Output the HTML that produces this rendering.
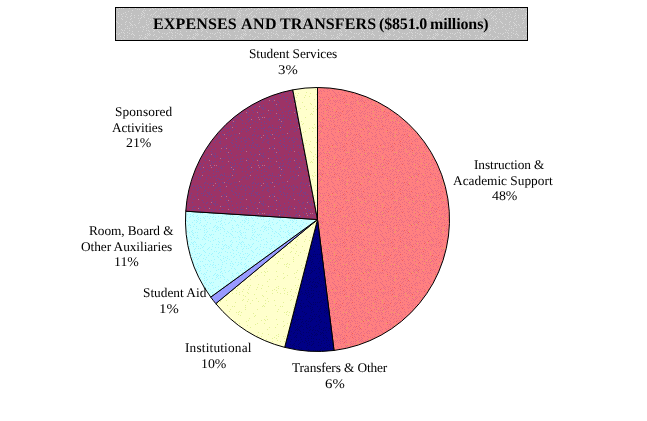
<!DOCTYPE html>
<html><head><meta charset="utf-8"><style>
html,body{margin:0;padding:0;background:#fff;}
svg{display:block;}
text{font-family:"Liberation Serif",serif;font-size:13.33px;fill:#000;text-rendering:geometricPrecision;}
.title{font-weight:bold;font-size:16px;}
</style></head><body>
<svg width="647" height="421" viewBox="0 0 647 421">
<defs><pattern id="ppink" patternUnits="userSpaceOnUse" x="0" y="0" width="48" height="48"><rect width="48" height="48" fill="#FF8080"/><path fill="#E66C84" d="M20 9h1v1h-1zM25 41h1v1h-1zM3 4h1v1h-1zM34 6h1v1h-1zM23 37h1v1h-1zM3 32h1v1h-1zM13 2h1v1h-1zM5 27h1v1h-1zM26 4h1v1h-1zM15 5h1v1h-1zM35 27h1v1h-1zM3 36h1v1h-1zM7 14h1v1h-1zM40 40h1v1h-1zM37 3h1v1h-1zM36 37h1v1h-1zM25 3h1v1h-1zM35 8h1v1h-1zM18 26h1v1h-1zM9 34h1v1h-1zM7 36h1v1h-1zM19 35h1v1h-1zM43 11h1v1h-1zM6 37h1v1h-1zM36 40h1v1h-1zM12 23h1v1h-1zM6 35h1v1h-1zM45 4h1v1h-1zM39 13h1v1h-1zM31 43h1v1h-1zM20 29h1v1h-1zM37 29h1v1h-1zM23 19h1v1h-1zM15 11h1v1h-1zM44 15h1v1h-1zM5 36h1v1h-1zM19 33h1v1h-1zM31 21h1v1h-1zM46 28h1v1h-1zM18 38h1v1h-1zM4 7h1v1h-1zM32 26h1v1h-1zM10 21h1v1h-1zM9 31h1v1h-1zM26 2h1v1h-1zM42 4h1v1h-1zM35 36h1v1h-1zM20 21h1v1h-1zM44 22h1v1h-1zM38 31h1v1h-1zM4 5h1v1h-1zM17 30h1v1h-1zM44 42h1v1h-1zM4 3h1v1h-1zM46 44h1v1h-1zM19 41h1v1h-1zM36 43h1v1h-1zM28 18h1v1h-1zM45 24h1v1h-1zM42 22h1v1h-1zM1 29h1v1h-1zM22 10h1v1h-1zM39 7h1v1h-1zM31 3h1v1h-1zM13 18h1v1h-1zM8 47h1v1h-1zM15 25h1v1h-1zM25 31h1v1h-1zM5 10h1v1h-1zM28 25h1v1h-1zM35 17h1v1h-1zM8 27h1v1h-1zM45 26h1v1h-1zM22 43h1v1h-1zM24 14h1v1h-1zM9 5h1v1h-1zM11 9h1v1h-1zM14 42h1v1h-1zM14 0h1v1h-1zM31 37h1v1h-1zM11 16h1v1h-1zM18 0h1v1h-1zM9 26h1v1h-1zM34 23h1v1h-1zM39 36h1v1h-1zM44 32h1v1h-1zM39 41h1v1h-1zM43 47h1v1h-1zM3 29h1v1h-1zM43 35h1v1h-1zM25 25h1v1h-1zM6 30h1v1h-1zM40 25h1v1h-1zM3 12h1v1h-1zM4 13h1v1h-1zM28 10h1v1h-1zM7 21h1v1h-1zM6 0h1v1h-1zM36 9h1v1h-1zM23 39h1v1h-1zM1 4h1v1h-1zM13 39h1v1h-1zM24 9h1v1h-1zM40 16h1v1h-1zM22 38h1v1h-1zM23 30h1v1h-1zM7 7h1v1h-1zM31 29h1v1h-1zM30 30h1v1h-1zM19 5h1v1h-1zM47 21h1v1h-1zM47 16h1v1h-1zM30 44h1v1h-1zM10 33h1v1h-1zM1 13h1v1h-1zM9 44h1v1h-1zM34 1h1v1h-1zM33 19h1v1h-1zM41 5h1v1h-1zM14 34h1v1h-1zM34 32h1v1h-1zM21 40h1v1h-1zM12 15h1v1h-1zM25 47h1v1h-1zM14 12h1v1h-1zM33 31h1v1h-1zM22 46h1v1h-1zM1 1h1v1h-1zM16 12h1v1h-1zM44 38h1v1h-1zM22 28h1v1h-1zM46 22h1v1h-1zM23 5h1v1h-1zM14 6h1v1h-1zM14 30h1v1h-1zM12 21h1v1h-1zM39 39h1v1h-1zM0 30h1v1h-1zM42 7h1v1h-1zM24 45h1v1h-1zM12 30h1v1h-1zM11 27h1v1h-1zM40 21h1v1h-1zM5 46h1v1h-1zM25 29h1v1h-1zM10 10h1v1h-1zM8 1h1v1h-1zM9 37h1v1h-1zM29 41h1v1h-1zM9 39h1v1h-1zM46 41h1v1h-1zM6 33h1v1h-1zM47 8h1v1h-1zM27 12h1v1h-1zM18 32h1v1h-1zM15 37h1v1h-1zM20 16h1v1h-1zM34 26h1v1h-1zM8 3h1v1h-1zM37 33h1v1h-1zM26 32h1v1h-1zM32 1h1v1h-1zM38 0h1v1h-1zM9 11h1v1h-1zM39 46h1v1h-1zM3 20h1v1h-1zM43 33h1v1h-1zM33 35h1v1h-1zM30 6h1v1h-1zM35 3h1v1h-1zM17 2h1v1h-1zM28 35h1v1h-1zM28 20h1v1h-1zM39 32h1v1h-1zM12 44h1v1h-1zM17 28h1v1h-1zM32 34h1v1h-1zM30 32h1v1h-1zM15 44h1v1h-1zM33 16h1v1h-1zM35 12h1v1h-1zM28 8h1v1h-1zM26 7h1v1h-1zM20 4h1v1h-1zM42 15h1v1h-1zM19 7h1v1h-1zM41 42h1v1h-1zM16 8h1v1h-1zM29 14h1v1h-1zM47 6h1v1h-1zM10 42h1v1h-1zM14 10h1v1h-1zM21 26h1v1h-1zM1 21h1v1h-1zM35 29h1v1h-1zM28 45h1v1h-1zM1 24h1v1h-1zM21 33h1v1h-1zM39 18h1v1h-1zM32 4h1v1h-1zM6 5h1v1h-1zM16 17h1v1h-1zM2 11h1v1h-1zM27 43h1v1h-1zM32 36h1v1h-1zM38 14h1v1h-1zM4 16h1v1h-1zM7 29h1v1h-1zM17 39h1v1h-1zM33 45h1v1h-1zM15 7h1v1h-1zM12 19h1v1h-1zM40 19h1v1h-1zM33 13h1v1h-1zM22 1h1v1h-1zM46 32h1v1h-1zM32 30h1v1h-1zM15 28h1v1h-1zM6 42h1v1h-1zM41 27h1v1h-1zM42 31h1v1h-1zM44 13h1v1h-1zM14 21h1v1h-1zM8 25h1v1h-1zM22 3h1v1h-1zM4 40h1v1h-1zM42 24h1v1h-1zM32 42h1v1h-1zM29 11h1v1h-1zM10 17h1v1h-1zM28 0h1v1h-1zM16 23h1v1h-1zM21 35h1v1h-1zM2 19h1v1h-1zM13 22h1v1h-1zM11 0h1v1h-1zM21 24h1v1h-1zM41 12h1v1h-1zM15 32h1v1h-1zM0 5h1v1h-1zM25 1h1v1h-1zM19 19h1v1h-1zM40 14h1v1h-1zM33 9h1v1h-1zM42 45h1v1h-1zM38 24h1v1h-1zM20 46h1v1h-1zM31 9h1v1h-1zM18 46h1v1h-1zM9 2h1v1h-1zM32 8h1v1h-1zM36 1h1v1h-1zM43 37h1v1h-1zM45 43h1v1h-1zM8 40h1v1h-1zM24 28h1v1h-1zM40 1h1v1h-1zM40 34h1v1h-1zM31 16h1v1h-1zM4 47h1v1h-1zM47 47h1v1h-1zM15 46h1v1h-1zM13 14h1v1h-1zM29 31h1v1h-1zM24 4h1v1h-1zM4 38h1v1h-1zM16 41h1v1h-1zM19 39h1v1h-1zM17 43h1v1h-1zM6 44h1v1h-1zM13 43h1v1h-1zM31 18h1v1h-1zM45 33h1v1h-1zM18 29h1v1h-1zM29 29h1v1h-1zM1 18h1v1h-1zM29 4h1v1h-1zM32 28h1v1h-1zM17 24h1v1h-1zM47 33h1v1h-1zM8 38h1v1h-1zM17 7h1v1h-1zM31 25h1v1h-1zM1 10h1v1h-1zM43 28h1v1h-1zM25 19h1v1h-1zM46 9h1v1h-1zM26 22h1v1h-1zM24 20h1v1h-1zM0 20h1v1h-1zM7 12h1v1h-1zM45 0h1v1h-1zM47 18h1v1h-1zM4 25h1v1h-1zM4 23h1v1h-1zM27 17h1v1h-1zM3 17h1v1h-1zM6 3h1v1h-1zM42 18h1v1h-1zM40 9h1v1h-1zM20 12h1v1h-1zM23 27h1v1h-1zM1 40h1v1h-1zM25 35h1v1h-1zM46 5h1v1h-1zM3 46h1v1h-1zM26 28h1v1h-1zM10 30h1v1h-1zM16 47h1v1h-1zM19 30h1v1h-1zM35 42h1v1h-1zM10 4h1v1h-1zM13 32h1v1h-1zM31 35h1v1h-1zM35 5h1v1h-1zM23 16h1v1h-1zM1 47h1v1h-1zM26 24h1v1h-1zM24 17h1v1h-1zM36 23h1v1h-1zM8 43h1v1h-1zM5 17h1v1h-1zM28 27h1v1h-1zM19 1h1v1h-1zM31 0h1v1h-1zM33 29h1v1h-1zM28 15h1v1h-1zM9 9h1v1h-1zM33 43h1v1h-1zM14 36h1v1h-1zM2 41h1v1h-1zM45 19h1v1h-1zM16 33h1v1h-1zM44 7h1v1h-1zM37 12h1v1h-1zM14 38h1v1h-1zM0 0h1v1h-1zM29 17h1v1h-1zM35 15h1v1h-1zM1 26h1v1h-1zM19 3h1v1h-1zM27 23h1v1h-1zM2 44h1v1h-1zM21 45h1v1h-1zM43 25h1v1h-1zM6 39h1v1h-1zM31 39h1v1h-1zM11 14h1v1h-1zM38 9h1v1h-1zM11 25h1v1h-1zM12 11h1v1h-1zM41 33h1v1h-1zM47 29h1v1h-1zM24 23h1v1h-1zM10 6h1v1h-1zM17 5h1v1h-1zM13 24h1v1h-1zM27 5h1v1h-1zM30 12h1v1h-1zM23 34h1v1h-1zM20 23h1v1h-1zM26 15h1v1h-1zM47 4h1v1h-1zM38 21h1v1h-1zM2 16h1v1h-1zM47 45h1v1h-1zM44 20h1v1h-1zM17 19h1v1h-1zM0 46h1v1h-1zM38 40h1v1h-1zM4 1h1v1h-1zM29 24h1v1h-1zM16 27h1v1h-1zM31 11h1v1h-1zM19 44h1v1h-1zM15 20h1v1h-1zM5 32h1v1h-1zM10 15h1v1h-1zM41 2h1v1h-1zM34 20h1v1h-1zM6 26h1v1h-1zM31 45h1v1h-1zM14 8h1v1h-1zM39 43h1v1h-1zM7 18h1v1h-1zM18 17h1v1h-1zM12 28h1v1h-1zM15 15h1v1h-1zM9 18h1v1h-1zM25 16h1v1h-1zM41 29h1v1h-1zM2 6h1v1h-1zM23 2h1v1h-1zM18 14h1v1h-1zM12 38h1v1h-1zM28 38h1v1h-1zM40 38h1v1h-1zM45 39h1v1h-1zM22 13h1v1h-1zM2 23h1v1h-1zM23 11h1v1h-1zM2 31h1v1h-1zM41 10h1v1h-1zM25 44h1v1h-1zM18 42h1v1h-1zM47 36h1v1h-1zM23 41h1v1h-1zM46 25h1v1h-1zM9 41h1v1h-1zM25 5h1v1h-1zM23 47h1v1h-1zM32 10h1v1h-1zM9 22h1v1h-1zM18 10h1v1h-1z"/><path fill="#E8A55F" d="M30 20h1v1h-1zM10 40h1v1h-1zM25 39h1v1h-1zM11 36h1v1h-1zM25 33h1v1h-1zM10 24h1v1h-1zM22 7h1v1h-1zM46 12h1v1h-1zM2 35h1v1h-1zM43 2h1v1h-1zM42 20h1v1h-1zM7 24h1v1h-1zM37 15h1v1h-1zM28 32h1v1h-1zM32 32h1v1h-1zM46 20h1v1h-1zM32 24h1v1h-1zM41 8h1v1h-1zM12 8h1v1h-1zM46 14h1v1h-1zM29 9h1v1h-1zM25 10h1v1h-1zM33 3h1v1h-1zM40 23h1v1h-1zM33 37h1v1h-1zM47 23h1v1h-1zM21 5h1v1h-1zM11 39h1v1h-1zM47 2h1v1h-1zM14 26h1v1h-1zM37 19h1v1h-1zM37 8h1v1h-1zM39 30h1v1h-1zM10 8h1v1h-1z"/><path fill="#EE5A5A" d="M0 15h1v1h-1zM28 6h1v1h-1zM35 22h1v1h-1zM3 34h1v1h-1zM12 33h1v1h-1zM39 11h1v1h-1zM4 19h1v1h-1zM40 3h1v1h-1zM46 30h1v1h-1zM27 47h1v1h-1zM16 14h1v1h-1zM16 45h1v1h-1zM10 47h1v1h-1zM24 40h1v1h-1zM34 30h1v1h-1zM44 1h1v1h-1zM6 15h1v1h-1zM7 2h1v1h-1zM8 6h1v1h-1zM18 20h1v1h-1zM16 1h1v1h-1zM20 38h1v1h-1zM27 33h1v1h-1z"/></pattern><pattern id="pnavy" patternUnits="userSpaceOnUse" x="0" y="0" width="48" height="48"><rect width="48" height="48" fill="#000086"/><path fill="#000068" d="M14 23h1v1h-1zM24 8h1v1h-1zM12 45h1v1h-1zM2 5h1v1h-1zM8 15h1v1h-1zM32 13h1v1h-1zM25 41h1v1h-1zM1 29h1v1h-1zM31 29h1v1h-1zM24 31h1v1h-1zM36 12h1v1h-1zM25 5h1v1h-1zM31 14h1v1h-1zM1 44h1v1h-1zM17 33h1v1h-1zM26 30h1v1h-1zM24 46h1v1h-1zM7 42h1v1h-1zM16 6h1v1h-1zM4 24h1v1h-1zM39 24h1v1h-1zM3 21h1v1h-1zM15 44h1v1h-1zM5 31h1v1h-1zM41 33h1v1h-1zM13 37h1v1h-1zM9 38h1v1h-1zM4 34h1v1h-1zM2 31h1v1h-1zM44 12h1v1h-1zM29 46h1v1h-1zM37 28h1v1h-1zM18 35h1v1h-1zM22 27h1v1h-1zM8 10h1v1h-1zM38 6h1v1h-1zM34 44h1v1h-1zM20 44h1v1h-1zM22 41h1v1h-1zM31 32h1v1h-1zM39 12h1v1h-1zM19 9h1v1h-1zM22 33h1v1h-1zM18 32h1v1h-1zM42 4h1v1h-1zM32 44h1v1h-1zM34 14h1v1h-1zM22 15h1v1h-1zM0 18h1v1h-1zM21 14h1v1h-1zM17 2h1v1h-1zM27 16h1v1h-1zM24 19h1v1h-1zM45 26h1v1h-1zM11 42h1v1h-1zM25 7h1v1h-1zM1 12h1v1h-1zM10 19h1v1h-1zM7 0h1v1h-1zM24 21h1v1h-1zM10 36h1v1h-1zM27 14h1v1h-1zM8 26h1v1h-1zM26 26h1v1h-1zM5 37h1v1h-1zM4 18h1v1h-1zM45 6h1v1h-1zM42 6h1v1h-1zM33 33h1v1h-1zM23 9h1v1h-1zM32 31h1v1h-1zM45 9h1v1h-1zM38 4h1v1h-1zM12 1h1v1h-1zM8 21h1v1h-1zM24 42h1v1h-1zM36 7h1v1h-1zM47 19h1v1h-1zM22 20h1v1h-1zM23 0h1v1h-1zM41 31h1v1h-1zM13 3h1v1h-1zM39 2h1v1h-1zM37 11h1v1h-1zM11 21h1v1h-1zM27 28h1v1h-1zM7 5h1v1h-1zM12 38h1v1h-1zM14 31h1v1h-1zM30 9h1v1h-1zM46 28h1v1h-1zM41 8h1v1h-1zM32 46h1v1h-1zM5 45h1v1h-1zM30 36h1v1h-1zM25 23h1v1h-1zM29 14h1v1h-1zM3 12h1v1h-1zM3 28h1v1h-1zM13 46h1v1h-1zM0 45h1v1h-1zM38 39h1v1h-1zM1 41h1v1h-1zM33 5h1v1h-1zM47 38h1v1h-1zM20 33h1v1h-1zM33 41h1v1h-1zM18 39h1v1h-1zM18 5h1v1h-1zM25 14h1v1h-1zM40 18h1v1h-1zM5 35h1v1h-1zM26 47h1v1h-1zM19 40h1v1h-1zM22 18h1v1h-1zM12 31h1v1h-1zM23 24h1v1h-1zM37 19h1v1h-1zM13 18h1v1h-1zM25 39h1v1h-1zM46 22h1v1h-1zM43 38h1v1h-1zM37 23h1v1h-1zM43 27h1v1h-1zM5 17h1v1h-1zM10 4h1v1h-1zM17 26h1v1h-1zM7 39h1v1h-1zM17 18h1v1h-1zM40 26h1v1h-1zM15 15h1v1h-1zM14 38h1v1h-1zM33 12h1v1h-1zM6 7h1v1h-1zM41 10h1v1h-1zM36 27h1v1h-1zM2 8h1v1h-1zM1 39h1v1h-1zM12 43h1v1h-1zM6 29h1v1h-1zM29 42h1v1h-1zM5 8h1v1h-1zM38 22h1v1h-1zM20 2h1v1h-1zM41 23h1v1h-1zM4 14h1v1h-1zM46 2h1v1h-1zM38 20h1v1h-1zM20 4h1v1h-1zM33 7h1v1h-1zM46 39h1v1h-1zM10 10h1v1h-1zM16 24h1v1h-1zM9 27h1v1h-1zM46 4h1v1h-1zM6 34h1v1h-1zM14 5h1v1h-1zM18 11h1v1h-1zM21 47h1v1h-1zM12 6h1v1h-1zM3 3h1v1h-1zM35 47h1v1h-1zM35 40h1v1h-1zM20 18h1v1h-1zM15 47h1v1h-1zM7 36h1v1h-1zM8 47h1v1h-1zM20 13h1v1h-1zM26 11h1v1h-1zM10 8h1v1h-1zM28 3h1v1h-1zM44 28h1v1h-1zM37 42h1v1h-1zM47 23h1v1h-1zM44 36h1v1h-1zM45 31h1v1h-1zM19 17h1v1h-1zM43 30h1v1h-1zM8 17h1v1h-1zM31 40h1v1h-1zM32 34h1v1h-1zM32 18h1v1h-1zM33 25h1v1h-1zM8 31h1v1h-1zM7 18h1v1h-1zM25 2h1v1h-1zM2 23h1v1h-1zM44 1h1v1h-1zM39 9h1v1h-1zM5 11h1v1h-1zM28 37h1v1h-1zM23 32h1v1h-1zM2 38h1v1h-1zM45 41h1v1h-1zM23 22h1v1h-1zM6 20h1v1h-1zM41 15h1v1h-1zM30 23h1v1h-1zM36 22h1v1h-1zM40 42h1v1h-1zM2 47h1v1h-1zM9 45h1v1h-1zM42 41h1v1h-1zM2 14h1v1h-1zM32 23h1v1h-1zM8 41h1v1h-1zM28 47h1v1h-1zM18 37h1v1h-1zM43 16h1v1h-1zM29 18h1v1h-1zM18 25h1v1h-1zM41 28h1v1h-1zM21 8h1v1h-1zM37 47h1v1h-1zM6 23h1v1h-1zM45 38h1v1h-1zM42 29h1v1h-1zM23 30h1v1h-1zM36 24h1v1h-1zM13 34h1v1h-1zM33 45h1v1h-1zM9 32h1v1h-1zM35 42h1v1h-1zM9 40h1v1h-1zM25 16h1v1h-1zM0 2h1v1h-1zM28 45h1v1h-1zM13 20h1v1h-1zM0 47h1v1h-1zM19 0h1v1h-1zM5 26h1v1h-1zM7 27h1v1h-1zM32 9h1v1h-1zM4 9h1v1h-1zM42 45h1v1h-1zM22 38h1v1h-1zM27 42h1v1h-1zM3 16h1v1h-1zM26 44h1v1h-1zM42 12h1v1h-1zM10 14h1v1h-1zM3 25h1v1h-1zM44 19h1v1h-1zM16 19h1v1h-1zM33 17h1v1h-1zM38 1h1v1h-1zM45 44h1v1h-1zM13 12h1v1h-1zM45 20h1v1h-1zM15 41h1v1h-1zM30 6h1v1h-1zM14 33h1v1h-1zM21 39h1v1h-1zM27 46h1v1h-1zM44 8h1v1h-1zM36 17h1v1h-1zM20 36h1v1h-1zM9 42h1v1h-1zM38 25h1v1h-1zM1 20h1v1h-1zM19 7h1v1h-1zM7 24h1v1h-1zM43 42h1v1h-1zM28 26h1v1h-1zM31 21h1v1h-1zM35 45h1v1h-1zM38 44h1v1h-1zM32 20h1v1h-1zM23 45h1v1h-1zM11 7h1v1h-1zM35 1h1v1h-1zM12 15h1v1h-1zM40 4h1v1h-1zM31 38h1v1h-1zM10 31h1v1h-1zM47 17h1v1h-1zM37 15h1v1h-1zM44 3h1v1h-1zM41 25h1v1h-1zM28 33h1v1h-1zM36 39h1v1h-1zM36 34h1v1h-1zM35 11h1v1h-1zM3 43h1v1h-1zM17 4h1v1h-1zM15 35h1v1h-1zM30 28h1v1h-1zM18 44h1v1h-1zM35 4h1v1h-1zM11 11h1v1h-1zM12 28h1v1h-1zM1 33h1v1h-1zM7 33h1v1h-1zM36 2h1v1h-1zM23 16h1v1h-1zM21 6h1v1h-1zM6 12h1v1h-1zM31 27h1v1h-1zM6 44h1v1h-1zM8 1h1v1h-1zM24 28h1v1h-1zM21 42h1v1h-1zM27 38h1v1h-1zM30 43h1v1h-1zM8 4h1v1h-1zM46 11h1v1h-1zM15 28h1v1h-1zM12 17h1v1h-1zM38 35h1v1h-1zM42 9h1v1h-1zM0 21h1v1h-1zM23 5h1v1h-1zM0 37h1v1h-1zM6 9h1v1h-1zM10 41h1v1h-1zM21 30h1v1h-1zM46 14h1v1h-1zM6 1h1v1h-1zM23 2h1v1h-1zM41 40h1v1h-1zM11 39h1v1h-1zM31 3h1v1h-1z"/></pattern><pattern id="pyellow" patternUnits="userSpaceOnUse" x="0" y="0" width="48" height="48"><rect width="48" height="48" fill="#FFFFCC"/><path fill="#E2F096" d="M29 39h1v1h-1zM23 17h1v1h-1zM8 11h1v1h-1zM43 0h1v1h-1zM21 32h1v1h-1zM5 21h1v1h-1zM35 39h1v1h-1zM44 2h1v1h-1zM46 24h1v1h-1zM10 45h1v1h-1zM28 46h1v1h-1zM27 10h1v1h-1zM10 15h1v1h-1zM3 7h1v1h-1zM8 32h1v1h-1zM37 4h1v1h-1zM44 24h1v1h-1zM47 6h1v1h-1zM18 13h1v1h-1zM43 14h1v1h-1zM46 26h1v1h-1zM5 17h1v1h-1zM13 25h1v1h-1zM17 21h1v1h-1zM2 12h1v1h-1zM45 0h1v1h-1zM26 3h1v1h-1zM24 31h1v1h-1zM8 1h1v1h-1zM15 27h1v1h-1zM38 0h1v1h-1zM7 37h1v1h-1zM12 12h1v1h-1zM21 0h1v1h-1zM5 8h1v1h-1zM34 1h1v1h-1zM32 5h1v1h-1zM36 31h1v1h-1zM34 12h1v1h-1zM25 12h1v1h-1zM40 5h1v1h-1zM44 37h1v1h-1zM38 46h1v1h-1zM2 3h1v1h-1zM17 35h1v1h-1zM43 38h1v1h-1zM9 47h1v1h-1zM17 47h1v1h-1zM36 2h1v1h-1zM7 45h1v1h-1zM25 15h1v1h-1zM10 39h1v1h-1zM32 2h1v1h-1zM47 23h1v1h-1zM43 33h1v1h-1zM37 36h1v1h-1zM44 5h1v1h-1zM22 7h1v1h-1zM37 23h1v1h-1zM28 13h1v1h-1zM36 47h1v1h-1zM1 24h1v1h-1zM38 21h1v1h-1zM0 27h1v1h-1zM7 13h1v1h-1zM14 28h1v1h-1zM5 19h1v1h-1zM40 18h1v1h-1zM6 33h1v1h-1zM3 1h1v1h-1zM24 35h1v1h-1zM27 31h1v1h-1zM22 45h1v1h-1zM15 36h1v1h-1zM47 4h1v1h-1zM27 41h1v1h-1zM14 6h1v1h-1zM25 32h1v1h-1zM23 8h1v1h-1zM42 18h1v1h-1zM16 1h1v1h-1zM3 11h1v1h-1zM16 10h1v1h-1zM24 18h1v1h-1zM22 18h1v1h-1zM9 30h1v1h-1zM35 17h1v1h-1zM8 5h1v1h-1zM47 35h1v1h-1zM18 44h1v1h-1zM7 4h1v1h-1zM26 28h1v1h-1z"/></pattern><pattern id="plav" patternUnits="userSpaceOnUse" x="0" y="0" width="48" height="48"><rect width="48" height="48" fill="#9999FF"/><path fill="#78AAFF" d="M36 2h1v1h-1zM27 30h1v1h-1zM36 0h1v1h-1zM13 29h1v1h-1zM31 17h1v1h-1zM41 10h1v1h-1zM2 33h1v1h-1zM31 20h1v1h-1zM4 15h1v1h-1zM47 23h1v1h-1zM2 26h1v1h-1zM8 38h1v1h-1zM22 24h1v1h-1zM26 18h1v1h-1zM43 16h1v1h-1zM29 11h1v1h-1zM43 19h1v1h-1zM42 23h1v1h-1zM8 29h1v1h-1zM15 28h1v1h-1zM39 24h1v1h-1zM2 37h1v1h-1zM0 15h1v1h-1zM8 12h1v1h-1zM19 34h1v1h-1zM23 15h1v1h-1zM20 42h1v1h-1zM35 28h1v1h-1zM4 41h1v1h-1zM37 20h1v1h-1zM32 10h1v1h-1zM14 26h1v1h-1zM15 2h1v1h-1zM2 31h1v1h-1zM19 38h1v1h-1zM42 4h1v1h-1zM34 5h1v1h-1zM9 24h1v1h-1zM36 23h1v1h-1zM38 9h1v1h-1zM7 6h1v1h-1zM28 10h1v1h-1zM12 22h1v1h-1zM27 26h1v1h-1zM28 15h1v1h-1zM9 39h1v1h-1zM33 11h1v1h-1zM7 17h1v1h-1zM29 19h1v1h-1zM10 42h1v1h-1zM11 30h1v1h-1zM22 20h1v1h-1zM27 14h1v1h-1zM0 34h1v1h-1zM45 2h1v1h-1zM15 5h1v1h-1zM25 37h1v1h-1zM31 43h1v1h-1zM15 47h1v1h-1zM33 17h1v1h-1zM33 30h1v1h-1zM38 31h1v1h-1zM4 10h1v1h-1zM29 25h1v1h-1zM8 26h1v1h-1zM34 37h1v1h-1zM22 34h1v1h-1zM24 31h1v1h-1zM44 10h1v1h-1zM6 26h1v1h-1zM2 0h1v1h-1zM28 34h1v1h-1zM4 3h1v1h-1zM22 5h1v1h-1zM9 6h1v1h-1zM38 29h1v1h-1zM31 8h1v1h-1zM29 27h1v1h-1zM32 28h1v1h-1zM21 46h1v1h-1zM16 44h1v1h-1zM21 41h1v1h-1zM33 33h1v1h-1zM9 47h1v1h-1zM15 20h1v1h-1zM39 2h1v1h-1zM43 12h1v1h-1zM41 37h1v1h-1zM36 40h1v1h-1zM30 1h1v1h-1zM45 18h1v1h-1zM5 2h1v1h-1zM38 35h1v1h-1zM6 18h1v1h-1zM30 9h1v1h-1zM23 38h1v1h-1zM25 12h1v1h-1zM22 11h1v1h-1zM5 37h1v1h-1zM12 27h1v1h-1zM13 6h1v1h-1zM29 47h1v1h-1zM44 33h1v1h-1zM46 27h1v1h-1zM28 42h1v1h-1zM47 35h1v1h-1zM13 17h1v1h-1zM38 23h1v1h-1zM7 40h1v1h-1zM40 0h1v1h-1zM39 26h1v1h-1zM24 41h1v1h-1zM12 4h1v1h-1zM27 5h1v1h-1zM3 22h1v1h-1z"/></pattern><pattern id="pcyan" patternUnits="userSpaceOnUse" x="0" y="0" width="48" height="48"><rect width="48" height="48" fill="#CCFFFF"/><path fill="#A0F5FF" d="M28 35h1v1h-1zM29 28h1v1h-1zM32 37h1v1h-1zM12 11h1v1h-1zM32 30h1v1h-1zM40 39h1v1h-1zM11 6h1v1h-1zM28 19h1v1h-1zM9 5h1v1h-1zM34 44h1v1h-1zM40 2h1v1h-1zM38 25h1v1h-1zM28 41h1v1h-1zM47 39h1v1h-1zM41 10h1v1h-1zM39 0h1v1h-1zM33 4h1v1h-1zM3 2h1v1h-1zM12 15h1v1h-1zM38 1h1v1h-1zM29 20h1v1h-1zM28 37h1v1h-1zM12 33h1v1h-1zM14 40h1v1h-1zM18 31h1v1h-1zM0 42h1v1h-1zM5 29h1v1h-1zM41 17h1v1h-1zM26 35h1v1h-1zM5 45h1v1h-1zM16 20h1v1h-1zM14 32h1v1h-1zM18 1h1v1h-1zM4 36h1v1h-1zM6 25h1v1h-1zM6 18h1v1h-1zM24 4h1v1h-1zM1 43h1v1h-1zM0 13h1v1h-1zM13 3h1v1h-1zM30 24h1v1h-1zM45 25h1v1h-1zM26 4h1v1h-1zM36 40h1v1h-1zM12 43h1v1h-1zM17 21h1v1h-1zM5 19h1v1h-1zM21 0h1v1h-1zM26 7h1v1h-1zM8 15h1v1h-1zM45 6h1v1h-1zM0 3h1v1h-1zM29 31h1v1h-1zM35 12h1v1h-1zM28 32h1v1h-1zM12 46h1v1h-1zM8 26h1v1h-1zM41 24h1v1h-1zM26 13h1v1h-1zM0 17h1v1h-1zM37 19h1v1h-1zM11 25h1v1h-1zM38 41h1v1h-1zM36 6h1v1h-1zM2 9h1v1h-1zM13 28h1v1h-1zM16 0h1v1h-1zM39 21h1v1h-1zM18 24h1v1h-1zM4 4h1v1h-1zM5 13h1v1h-1zM38 23h1v1h-1zM23 39h1v1h-1zM29 8h1v1h-1zM37 30h1v1h-1zM36 8h1v1h-1zM24 11h1v1h-1zM40 9h1v1h-1zM19 14h1v1h-1zM39 15h1v1h-1zM46 12h1v1h-1zM10 47h1v1h-1zM40 35h1v1h-1zM24 30h1v1h-1zM38 5h1v1h-1zM6 6h1v1h-1zM2 32h1v1h-1zM16 15h1v1h-1zM47 45h1v1h-1zM25 16h1v1h-1zM26 38h1v1h-1zM31 18h1v1h-1zM33 11h1v1h-1zM46 4h1v1h-1zM30 35h1v1h-1zM39 4h1v1h-1zM17 13h1v1h-1zM13 47h1v1h-1zM1 4h1v1h-1zM17 26h1v1h-1zM28 15h1v1h-1zM11 18h1v1h-1zM23 33h1v1h-1zM5 23h1v1h-1zM8 28h1v1h-1zM21 42h1v1h-1zM46 44h1v1h-1zM8 37h1v1h-1zM2 1h1v1h-1zM30 22h1v1h-1zM44 19h1v1h-1zM4 30h1v1h-1zM4 46h1v1h-1zM19 20h1v1h-1zM8 4h1v1h-1zM4 28h1v1h-1zM34 23h1v1h-1zM47 2h1v1h-1zM47 47h1v1h-1zM45 8h1v1h-1zM21 22h1v1h-1zM5 43h1v1h-1zM30 4h1v1h-1zM26 1h1v1h-1zM31 36h1v1h-1zM24 37h1v1h-1zM0 38h1v1h-1zM5 40h1v1h-1zM7 16h1v1h-1zM26 46h1v1h-1zM21 24h1v1h-1zM28 29h1v1h-1zM34 5h1v1h-1zM33 32h1v1h-1zM1 19h1v1h-1zM30 1h1v1h-1zM14 44h1v1h-1zM7 31h1v1h-1zM39 42h1v1h-1zM31 16h1v1h-1zM0 23h1v1h-1zM19 9h1v1h-1zM43 39h1v1h-1zM10 21h1v1h-1zM42 28h1v1h-1zM20 25h1v1h-1zM42 16h1v1h-1zM12 40h1v1h-1zM27 12h1v1h-1zM13 24h1v1h-1zM14 37h1v1h-1zM20 13h1v1h-1zM8 8h1v1h-1zM2 45h1v1h-1zM4 17h1v1h-1zM10 7h1v1h-1zM26 24h1v1h-1zM40 33h1v1h-1zM31 43h1v1h-1zM20 45h1v1h-1zM39 28h1v1h-1zM20 4h1v1h-1zM2 17h1v1h-1zM43 45h1v1h-1zM17 36h1v1h-1zM22 19h1v1h-1zM41 36h1v1h-1zM1 41h1v1h-1zM29 12h1v1h-1zM15 9h1v1h-1zM3 40h1v1h-1zM34 41h1v1h-1zM40 23h1v1h-1zM11 45h1v1h-1zM0 30h1v1h-1zM2 11h1v1h-1zM14 17h1v1h-1zM22 34h1v1h-1zM44 33h1v1h-1zM32 39h1v1h-1zM44 14h1v1h-1zM5 26h1v1h-1zM46 24h1v1h-1zM24 35h1v1h-1zM32 21h1v1h-1zM41 13h1v1h-1zM6 46h1v1h-1zM41 45h1v1h-1zM7 13h1v1h-1zM15 24h1v1h-1zM34 20h1v1h-1zM16 45h1v1h-1zM1 22h1v1h-1zM32 5h1v1h-1zM2 28h1v1h-1zM21 35h1v1h-1zM26 17h1v1h-1zM27 2h1v1h-1zM11 34h1v1h-1zM8 30h1v1h-1zM9 33h1v1h-1zM46 33h1v1h-1zM37 44h1v1h-1zM35 18h1v1h-1zM46 35h1v1h-1zM35 16h1v1h-1zM19 42h1v1h-1zM13 19h1v1h-1zM33 17h1v1h-1zM36 31h1v1h-1zM12 26h1v1h-1zM34 7h1v1h-1zM32 0h1v1h-1zM1 34h1v1h-1zM25 34h1v1h-1zM44 10h1v1h-1zM4 34h1v1h-1zM29 26h1v1h-1zM15 30h1v1h-1zM31 8h1v1h-1zM21 27h1v1h-1zM30 33h1v1h-1zM20 6h1v1h-1zM16 8h1v1h-1zM44 1h1v1h-1zM9 14h1v1h-1zM46 22h1v1h-1zM15 39h1v1h-1zM31 6h1v1h-1zM31 46h1v1h-1zM37 7h1v1h-1zM33 27h1v1h-1zM1 24h1v1h-1zM40 26h1v1h-1zM13 34h1v1h-1zM39 37h1v1h-1zM22 11h1v1h-1zM20 38h1v1h-1zM13 12h1v1h-1zM6 8h1v1h-1zM6 27h1v1h-1zM40 43h1v1h-1zM1 6h1v1h-1zM12 36h1v1h-1zM43 22h1v1h-1zM23 7h1v1h-1zM45 32h1v1h-1zM12 4h1v1h-1zM1 2h1v1h-1zM35 39h1v1h-1zM30 9h1v1h-1zM11 10h1v1h-1zM18 43h1v1h-1zM6 37h1v1h-1zM3 8h1v1h-1zM43 29h1v1h-1zM4 6h1v1h-1zM0 40h1v1h-1zM26 29h1v1h-1zM23 47h1v1h-1zM23 25h1v1h-1zM12 38h1v1h-1zM45 40h1v1h-1zM25 36h1v1h-1zM38 12h1v1h-1zM21 16h1v1h-1zM17 7h1v1h-1zM8 21h1v1h-1zM23 27h1v1h-1zM3 14h1v1h-1zM17 42h1v1h-1zM13 42h1v1h-1zM4 24h1v1h-1zM44 7h1v1h-1zM39 6h1v1h-1zM47 15h1v1h-1z"/></pattern><pattern id="ppurple" patternUnits="userSpaceOnUse" x="0" y="0" width="48" height="48"><rect width="48" height="48" fill="#9C3366"/><path fill="#6A4494" d="M30 17h1v1h-1zM42 33h1v1h-1zM42 22h1v1h-1zM9 24h1v1h-1zM0 23h1v1h-1zM41 29h1v1h-1zM44 38h1v1h-1zM14 35h1v1h-1zM0 42h1v1h-1zM39 9h1v1h-1zM28 23h1v1h-1zM10 21h1v1h-1zM13 3h1v1h-1zM36 12h1v1h-1zM4 32h1v1h-1zM43 21h1v1h-1zM43 25h1v1h-1zM5 1h1v1h-1zM3 42h1v1h-1zM32 14h1v1h-1zM5 27h1v1h-1zM28 7h1v1h-1zM42 27h1v1h-1zM8 34h1v1h-1zM20 39h1v1h-1zM35 10h1v1h-1zM44 3h1v1h-1zM32 5h1v1h-1zM25 38h1v1h-1zM26 42h1v1h-1zM38 30h1v1h-1zM30 38h1v1h-1zM24 34h1v1h-1zM1 41h1v1h-1zM46 5h1v1h-1zM12 42h1v1h-1zM16 22h1v1h-1zM23 44h1v1h-1zM24 43h1v1h-1zM19 7h1v1h-1zM16 15h1v1h-1zM21 23h1v1h-1zM23 32h1v1h-1zM36 32h1v1h-1zM11 1h1v1h-1zM24 27h1v1h-1zM2 33h1v1h-1zM1 14h1v1h-1zM2 24h1v1h-1zM13 38h1v1h-1zM6 35h1v1h-1zM14 11h1v1h-1zM4 44h1v1h-1zM17 2h1v1h-1zM27 17h1v1h-1zM31 22h1v1h-1zM38 40h1v1h-1zM46 3h1v1h-1zM32 29h1v1h-1zM23 13h1v1h-1zM21 18h1v1h-1zM29 30h1v1h-1zM44 30h1v1h-1zM15 10h1v1h-1zM29 35h1v1h-1zM23 11h1v1h-1zM12 47h1v1h-1zM0 17h1v1h-1zM21 11h1v1h-1zM15 0h1v1h-1zM32 2h1v1h-1zM15 39h1v1h-1zM7 23h1v1h-1zM34 32h1v1h-1zM9 1h1v1h-1zM20 42h1v1h-1zM17 40h1v1h-1zM7 14h1v1h-1zM30 31h1v1h-1zM40 22h1v1h-1zM16 43h1v1h-1zM28 47h1v1h-1zM10 28h1v1h-1zM18 39h1v1h-1zM2 17h1v1h-1zM21 32h1v1h-1zM40 44h1v1h-1zM28 45h1v1h-1zM13 46h1v1h-1zM18 33h1v1h-1zM16 1h1v1h-1zM43 0h1v1h-1zM44 1h1v1h-1zM17 26h1v1h-1zM8 15h1v1h-1zM12 27h1v1h-1zM30 3h1v1h-1zM35 36h1v1h-1zM39 46h1v1h-1zM26 27h1v1h-1zM37 5h1v1h-1zM25 12h1v1h-1zM37 35h1v1h-1zM40 47h1v1h-1zM24 36h1v1h-1zM44 45h1v1h-1zM2 4h1v1h-1zM26 34h1v1h-1zM12 24h1v1h-1zM6 45h1v1h-1zM22 12h1v1h-1zM19 17h1v1h-1zM44 43h1v1h-1zM39 39h1v1h-1zM34 38h1v1h-1zM15 4h1v1h-1zM26 22h1v1h-1zM20 5h1v1h-1zM9 43h1v1h-1zM5 46h1v1h-1zM19 19h1v1h-1zM44 11h1v1h-1zM43 42h1v1h-1zM40 27h1v1h-1zM31 39h1v1h-1zM28 31h1v1h-1zM11 3h1v1h-1zM42 38h1v1h-1zM21 29h1v1h-1zM15 20h1v1h-1zM23 17h1v1h-1zM12 44h1v1h-1zM14 33h1v1h-1zM9 32h1v1h-1zM29 24h1v1h-1zM38 32h1v1h-1zM45 15h1v1h-1zM3 14h1v1h-1zM33 43h1v1h-1zM28 42h1v1h-1zM3 6h1v1h-1zM43 19h1v1h-1zM22 46h1v1h-1zM1 20h1v1h-1zM40 19h1v1h-1zM10 8h1v1h-1zM30 14h1v1h-1zM34 8h1v1h-1zM16 31h1v1h-1zM2 27h1v1h-1zM26 40h1v1h-1zM38 18h1v1h-1zM20 9h1v1h-1zM41 2h1v1h-1zM27 39h1v1h-1zM42 16h1v1h-1zM21 26h1v1h-1zM24 31h1v1h-1zM24 25h1v1h-1zM11 10h1v1h-1zM13 16h1v1h-1zM7 17h1v1h-1zM33 3h1v1h-1zM45 22h1v1h-1zM47 19h1v1h-1zM8 19h1v1h-1zM1 35h1v1h-1zM19 2h1v1h-1zM0 10h1v1h-1zM18 12h1v1h-1zM11 19h1v1h-1zM34 1h1v1h-1zM38 6h1v1h-1zM31 34h1v1h-1zM6 33h1v1h-1zM8 25h1v1h-1zM32 31h1v1h-1zM29 22h1v1h-1zM40 24h1v1h-1zM1 45h1v1h-1zM6 43h1v1h-1zM27 35h1v1h-1zM23 4h1v1h-1zM8 22h1v1h-1zM5 3h1v1h-1zM0 15h1v1h-1zM1 7h1v1h-1zM36 39h1v1h-1zM46 41h1v1h-1zM47 1h1v1h-1zM37 14h1v1h-1zM40 13h1v1h-1zM27 41h1v1h-1zM34 20h1v1h-1zM15 25h1v1h-1zM5 41h1v1h-1zM38 21h1v1h-1zM23 9h1v1h-1zM8 42h1v1h-1zM17 0h1v1h-1zM12 14h1v1h-1zM7 30h1v1h-1zM27 46h1v1h-1zM20 21h1v1h-1zM38 24h1v1h-1zM12 39h1v1h-1zM40 34h1v1h-1z"/><path fill="#B47090" d="M39 23h1v1h-1zM36 8h1v1h-1zM34 42h1v1h-1zM17 16h1v1h-1zM6 7h1v1h-1zM47 37h1v1h-1zM40 31h1v1h-1zM11 23h1v1h-1zM36 17h1v1h-1zM24 21h1v1h-1zM19 23h1v1h-1zM22 21h1v1h-1zM32 38h1v1h-1zM29 4h1v1h-1zM23 39h1v1h-1zM18 21h1v1h-1zM41 25h1v1h-1zM21 41h1v1h-1zM34 4h1v1h-1zM6 16h1v1h-1zM10 31h1v1h-1zM19 10h1v1h-1zM28 14h1v1h-1z"/></pattern><pattern id="pgray" patternUnits="userSpaceOnUse" x="0" y="0" width="48" height="48"><rect width="48" height="48" fill="#C0C0C0"/><path fill="#D8D8D8" d="M16 18h1v1h-1zM43 43h1v1h-1zM11 41h1v1h-1zM14 42h1v1h-1zM9 14h1v1h-1zM41 46h1v1h-1zM11 8h1v1h-1zM4 34h1v1h-1zM13 47h1v1h-1zM18 1h1v1h-1zM27 8h1v1h-1zM43 38h1v1h-1zM0 17h1v1h-1zM9 5h1v1h-1zM16 28h1v1h-1zM47 27h1v1h-1zM8 16h1v1h-1zM22 14h1v1h-1zM31 35h1v1h-1zM36 27h1v1h-1zM42 23h1v1h-1zM27 40h1v1h-1zM20 41h1v1h-1zM7 22h1v1h-1zM38 40h1v1h-1zM16 44h1v1h-1zM28 35h1v1h-1zM39 47h1v1h-1zM8 28h1v1h-1zM43 46h1v1h-1zM11 18h1v1h-1zM12 11h1v1h-1zM33 22h1v1h-1zM16 23h1v1h-1zM29 16h1v1h-1zM38 17h1v1h-1zM25 8h1v1h-1zM36 31h1v1h-1zM35 15h1v1h-1zM12 44h1v1h-1zM23 8h1v1h-1zM4 27h1v1h-1zM41 40h1v1h-1zM29 24h1v1h-1zM0 46h1v1h-1zM27 2h1v1h-1zM14 9h1v1h-1zM31 44h1v1h-1zM16 10h1v1h-1zM46 26h1v1h-1zM47 16h1v1h-1zM22 12h1v1h-1zM45 40h1v1h-1zM23 33h1v1h-1zM45 42h1v1h-1zM8 45h1v1h-1zM38 15h1v1h-1zM46 31h1v1h-1zM13 39h1v1h-1zM2 37h1v1h-1zM44 37h1v1h-1zM2 22h1v1h-1zM37 46h1v1h-1zM36 21h1v1h-1zM43 35h1v1h-1zM7 14h1v1h-1zM10 4h1v1h-1zM38 35h1v1h-1zM34 44h1v1h-1zM2 28h1v1h-1zM5 33h1v1h-1zM0 8h1v1h-1zM19 7h1v1h-1zM26 19h1v1h-1zM17 36h1v1h-1zM38 44h1v1h-1zM4 30h1v1h-1zM2 0h1v1h-1zM20 21h1v1h-1zM9 31h1v1h-1zM35 34h1v1h-1zM33 30h1v1h-1zM13 18h1v1h-1zM2 24h1v1h-1zM32 45h1v1h-1zM10 47h1v1h-1zM27 43h1v1h-1zM13 16h1v1h-1zM27 37h1v1h-1zM15 22h1v1h-1zM15 37h1v1h-1zM18 27h1v1h-1zM13 41h1v1h-1zM22 27h1v1h-1zM2 20h1v1h-1zM25 29h1v1h-1zM5 4h1v1h-1zM0 41h1v1h-1zM19 12h1v1h-1zM28 30h1v1h-1zM35 24h1v1h-1zM21 3h1v1h-1zM18 33h1v1h-1zM9 3h1v1h-1zM10 13h1v1h-1zM19 19h1v1h-1zM38 24h1v1h-1zM6 23h1v1h-1zM31 28h1v1h-1zM37 37h1v1h-1zM22 34h1v1h-1zM18 8h1v1h-1zM10 34h1v1h-1zM0 15h1v1h-1zM43 9h1v1h-1zM23 4h1v1h-1zM22 16h1v1h-1zM13 3h1v1h-1zM45 15h1v1h-1zM42 15h1v1h-1zM33 28h1v1h-1zM12 36h1v1h-1zM25 39h1v1h-1zM3 35h1v1h-1zM3 7h1v1h-1zM39 8h1v1h-1zM34 23h1v1h-1zM34 25h1v1h-1zM19 9h1v1h-1zM34 19h1v1h-1zM16 5h1v1h-1zM1 10h1v1h-1zM46 0h1v1h-1zM45 17h1v1h-1zM5 21h1v1h-1zM40 27h1v1h-1zM10 39h1v1h-1zM44 18h1v1h-1zM6 19h1v1h-1zM25 24h1v1h-1zM17 9h1v1h-1zM19 0h1v1h-1zM33 1h1v1h-1zM34 16h1v1h-1zM17 21h1v1h-1zM14 15h1v1h-1zM23 26h1v1h-1zM10 30h1v1h-1zM26 16h1v1h-1zM9 29h1v1h-1zM37 34h1v1h-1zM29 12h1v1h-1zM24 45h1v1h-1zM1 36h1v1h-1zM2 30h1v1h-1zM32 11h1v1h-1zM8 6h1v1h-1zM0 37h1v1h-1zM8 19h1v1h-1zM5 31h1v1h-1zM36 33h1v1h-1zM46 3h1v1h-1zM13 45h1v1h-1zM44 27h1v1h-1zM1 34h1v1h-1zM1 43h1v1h-1zM41 3h1v1h-1zM14 31h1v1h-1zM1 38h1v1h-1zM6 15h1v1h-1zM20 33h1v1h-1zM32 0h1v1h-1zM14 38h1v1h-1zM3 33h1v1h-1zM15 32h1v1h-1zM43 22h1v1h-1zM46 14h1v1h-1zM42 18h1v1h-1zM37 5h1v1h-1zM8 8h1v1h-1zM46 11h1v1h-1zM38 6h1v1h-1zM41 9h1v1h-1zM29 22h1v1h-1zM24 36h1v1h-1zM26 4h1v1h-1zM28 33h1v1h-1zM24 43h1v1h-1zM43 20h1v1h-1zM1 45h1v1h-1zM26 30h1v1h-1zM36 47h1v1h-1zM3 5h1v1h-1zM16 13h1v1h-1zM13 27h1v1h-1zM35 18h1v1h-1zM0 13h1v1h-1zM40 5h1v1h-1zM47 7h1v1h-1zM24 40h1v1h-1zM13 20h1v1h-1zM10 1h1v1h-1zM10 44h1v1h-1zM11 3h1v1h-1zM3 14h1v1h-1zM44 5h1v1h-1zM31 32h1v1h-1zM9 7h1v1h-1zM39 3h1v1h-1zM33 33h1v1h-1zM5 45h1v1h-1zM15 16h1v1h-1zM18 37h1v1h-1zM45 35h1v1h-1zM17 47h1v1h-1zM45 13h1v1h-1zM6 41h1v1h-1zM5 10h1v1h-1zM28 38h1v1h-1zM6 2h1v1h-1zM30 14h1v1h-1zM30 21h1v1h-1zM31 5h1v1h-1zM0 26h1v1h-1zM33 8h1v1h-1zM9 27h1v1h-1zM22 23h1v1h-1zM21 22h1v1h-1zM47 12h1v1h-1zM6 9h1v1h-1zM47 10h1v1h-1zM36 10h1v1h-1zM3 38h1v1h-1zM31 26h1v1h-1zM35 13h1v1h-1zM24 1h1v1h-1zM25 18h1v1h-1zM5 35h1v1h-1zM15 25h1v1h-1zM35 3h1v1h-1zM29 28h1v1h-1zM6 34h1v1h-1zM28 47h1v1h-1zM9 35h1v1h-1zM31 17h1v1h-1zM47 29h1v1h-1zM10 28h1v1h-1zM36 25h1v1h-1zM3 25h1v1h-1zM25 14h1v1h-1zM42 47h1v1h-1zM27 13h1v1h-1zM2 2h1v1h-1zM44 1h1v1h-1zM46 43h1v1h-1zM39 25h1v1h-1zM25 32h1v1h-1zM31 37h1v1h-1zM3 45h1v1h-1zM31 40h1v1h-1zM11 15h1v1h-1zM13 29h1v1h-1zM30 2h1v1h-1zM12 17h1v1h-1zM9 9h1v1h-1zM4 18h1v1h-1zM42 31h1v1h-1zM7 4h1v1h-1zM46 38h1v1h-1zM4 24h1v1h-1zM11 12h1v1h-1zM21 9h1v1h-1zM27 32h1v1h-1zM10 25h1v1h-1zM15 19h1v1h-1zM0 6h1v1h-1z"/></pattern></defs>
<rect x="0" y="0" width="647" height="421" fill="#fff"/>
<rect x="115.5" y="7.5" width="412" height="33" fill="url(#pgray)" stroke="#000" stroke-width="1"/>
<path d="M317.5,219.5 L317.50,87.50 A132.0,132.0 0 0 1 334.04,350.46 Z" fill="url(#ppink)" stroke="#000" stroke-width="1"/>
<path d="M317.5,219.5 L334.04,350.46 A132.0,132.0 0 0 1 284.67,347.35 Z" fill="url(#pnavy)" stroke="#000" stroke-width="1"/>
<path d="M317.5,219.5 L284.67,347.35 A132.0,132.0 0 0 1 215.79,303.64 Z" fill="url(#pyellow)" stroke="#000" stroke-width="1"/>
<path d="M317.5,219.5 L215.79,303.64 A132.0,132.0 0 0 1 210.71,297.09 Z" fill="url(#plav)" stroke="#000" stroke-width="1"/>
<path d="M317.5,219.5 L210.71,297.09 A132.0,132.0 0 0 1 185.76,211.21 Z" fill="url(#pcyan)" stroke="#000" stroke-width="1"/>
<path d="M317.5,219.5 L185.76,211.21 A132.0,132.0 0 0 1 292.77,89.84 Z" fill="url(#ppurple)" stroke="#000" stroke-width="1"/>
<path d="M317.5,219.5 L292.77,89.84 A132.0,132.0 0 0 1 317.50,87.50 Z" fill="url(#pyellow)" stroke="#000" stroke-width="1"/>
<g style="filter:grayscale(1)">
<text class="title" x="153" y="29" textLength="83.70" lengthAdjust="spacing">EXPENSES</text>
<text class="title" x="241" y="29" textLength="35.67" lengthAdjust="spacing">AND</text>
<text class="title" x="280" y="29" textLength="96.14" lengthAdjust="spacing">TRANSFERS</text>
<text class="title" x="379" y="29" textLength="48.33" lengthAdjust="spacing">($851.0</text>
<text class="title" x="430" y="29" textLength="58.56" lengthAdjust="spacing">millions)</text>
<text x="249" y="58" textLength="88.22" lengthAdjust="spacing">Student Services</text>
<text x="278" y="74" textLength="19.78" lengthAdjust="spacingAndGlyphs">3%</text>
<text x="115" y="116" textLength="57.28" lengthAdjust="spacing">Sponsored</text>
<text x="112" y="132" textLength="50.83" lengthAdjust="spacing">Activities</text>
<text x="126" y="147" textLength="25.44" lengthAdjust="spacingAndGlyphs">21%</text>
<text x="474" y="169" textLength="70.45" lengthAdjust="spacing">Instruction &amp;</text>
<text x="453" y="185" textLength="99.58" lengthAdjust="spacing">Academic Support</text>
<text x="492" y="200" textLength="25.44" lengthAdjust="spacingAndGlyphs">48%</text>
<text x="89" y="235" textLength="84.53" lengthAdjust="spacing">Room, Board &amp;</text>
<text x="81" y="251" textLength="91.17" lengthAdjust="spacing">Other Auxiliaries</text>
<text x="114" y="266" textLength="24.94" lengthAdjust="spacingAndGlyphs">11%</text>
<text x="143" y="297" textLength="63.33" lengthAdjust="spacing">Student Aid</text>
<text x="159" y="313" textLength="19.78" lengthAdjust="spacingAndGlyphs">1%</text>
<text x="185" y="352" textLength="66.42" lengthAdjust="spacing">Institutional</text>
<text x="201" y="368" textLength="25.44" lengthAdjust="spacingAndGlyphs">10%</text>
<text x="292" y="372" textLength="95.23" lengthAdjust="spacing">Transfers &amp; Other</text>
<text x="325" y="388" textLength="19.78" lengthAdjust="spacingAndGlyphs">6%</text>
</g>
</svg>
</body></html>
